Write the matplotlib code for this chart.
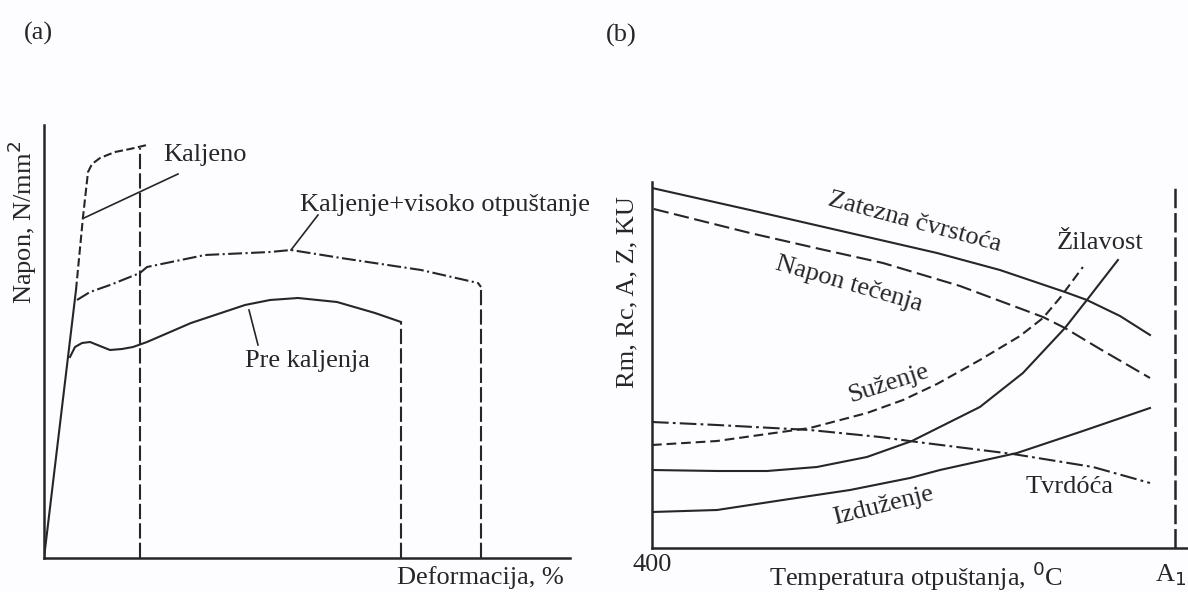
import matplotlib
matplotlib.use("Agg")
import matplotlib.pyplot as plt

plt.rcParams['font.family'] = ['Liberation Serif', 'DejaVu Serif']
plt.rcParams['lines.scale_dashes'] = False

INK = '#262626'
FS = 19

# ---- panel (a): stress-strain curves (arbitrary units) ----
elastic_x = [0, 32]
elastic_y = [0, 268]

kaljeno_x = [32, 39, 42, 44, 48, 56, 71, 86, 103]
kaljeno_y = [268, 341, 368, 386, 394, 400, 406, 409, 413]

visoko_x = [33, 46, 66, 96, 103, 161, 226, 247, 297, 377, 434, 437]
visoko_y = [258, 266, 273, 285, 291, 303, 306, 308, 300, 288, 275, 271]

pre_x = [26, 31, 38, 46, 56, 66, 78, 89, 103, 147, 201, 226, 254, 293, 331, 357]
pre_y = [201, 211, 215, 216, 212, 208, 209, 211, 216, 235, 253, 258, 260, 256, 245, 236]

# fracture strains (vertical drop lines) and their heights
break_x = [96, 357, 437]
break_top = [410, 236, 271]

# ---- panel (b): properties vs tempering temperature ----
rm_t = [400, 456.2, 513.6, 563.5, 599.6, 636.9, 649.5, 668.5, 685.7]
rm_v = [360, 338, 315, 295, 278, 256, 248, 232, 213]

re_t = [401, 456.2, 496.4, 532.5, 576.7, 624.3, 636.9, 657.0, 685.7]
re_v = [339, 315, 299, 285, 262, 231, 220, 199, 170]

z_t = [400, 437.3, 466.0, 490.6, 523.3, 544.0, 563.5, 588.1, 611.1, 624.3, 634.0, 647.2]
z_v = [103, 107, 114, 120, 135, 148, 164, 188, 212, 230, 250, 281]

ku_t = [400, 437.3, 466.0, 494.6, 523.3, 549.1, 588.1, 612.8, 636.9, 649.5, 667.3]
ku_v = [78, 77, 77, 81, 91, 107, 141, 175, 220, 248, 288]

a_t = [400, 437.3, 475.1, 513.6, 548.0, 565.2, 609.4, 645.5, 685.7]
a_v = [36, 38, 48, 58, 70, 78, 95, 116, 140]

hb_t = [400, 437.3, 490.6, 530.8, 552.0, 607.1, 653.0, 685.7]
hb_v = [126, 123, 118, 111, 106, 94, 81, 65]

A1_temp = 700

W, H = 1188, 592
fig = plt.figure(figsize=(W / 100, H / 100), dpi=100, facecolor='#fdfcfe')


def fx(px):
    return px / W


def fy(py):
    return 1 - py / H


def style_axes(ax):
    ax.set_facecolor('none')
    for s in ['top', 'right']:
        ax.spines[s].set_visible(False)
    for s in ['left', 'bottom']:
        ax.spines[s].set_color(INK)
        ax.spines[s].set_linewidth(1.8)
    ax.set_xticks([])
    ax.set_yticks([])


lw = 1.5
dashed = (0, (6, 2.5))
longdash = (0, (11, 3))
dashdot = (0, (10, 2.5, 1.5, 2.5))

# panel (a)
ax = fig.add_axes([fx(44), fy(558), fx(570) - fx(44), fy(125) - fy(558)])
style_axes(ax)
ax.set_xlim(0, 526)
ax.set_ylim(0, 433)

ax.plot(elastic_x, elastic_y, color=INK, lw=lw)
ax.plot(kaljeno_x, kaljeno_y, color=INK, lw=lw, ls=dashed)
ax.plot(visoko_x, visoko_y, color=INK, lw=lw, ls=dashdot)
ax.plot(pre_x, pre_y, color=INK, lw=lw)
for bx_, bt in zip(break_x, break_top):
    ax.plot([bx_, bx_], [0, bt], color=INK, lw=lw, ls=longdash)

# leaders + labels
ax.plot([40, 134], [340, 384], color=INK, lw=1.2)
ax.text(119, 403, 'Kaljeno', fontsize=FS, color=INK, ha='left', va='center')
ax.plot([247, 274], [308, 343], color=INK, lw=1.2)
ax.text(256, 353, 'Kaljenje+visoko otpuštanje', fontsize=FS, color=INK,
        ha='left', va='center', clip_on=False)
ax.plot([205, 214], [248, 213], color=INK, lw=1.2)
ax.text(201, 197, 'Pre kaljenja', fontsize=FS, color=INK, ha='left', va='center')

fig.text(fx(38), fy(33), '(a)', fontsize=FS, color=INK, ha='center', va='center')
fig.text(fx(564), fy(578), 'Deformacija, %', fontsize=FS, color=INK, ha='right', va='center')
fig.text(fx(22), fy(222), 'Napon, N/mm$^2$', fontsize=FS, color=INK,
         ha='center', va='center', rotation=90)

# panel (b)
bx = fig.add_axes([fx(652), fy(548), fx(1188) - fx(652), fy(182) - fy(548)])
style_axes(bx)
bx.set_xlim(400, 707.5)
bx.set_ylim(0, 366)

bx.plot(rm_t, rm_v, color=INK, lw=lw)
bx.plot(re_t, re_v, color=INK, lw=lw, ls=(0, (11, 4)))
bx.plot(z_t, z_v, color=INK, lw=lw, ls=(0, (7, 3.5)))
bx.plot(ku_t, ku_v, color=INK, lw=lw)
bx.plot(a_t, a_v, color=INK, lw=lw)
bx.plot(hb_t, hb_v, color=INK, lw=lw, ls=(0, (12, 3, 2, 3)))
bx.plot([A1_temp, A1_temp], [0, 363], color=INK, lw=1.8, ls=(0, (14, 3.5)))

bx.text(550.9, 326, 'Zatezna čvrstoća', fontsize=FS, color=INK,
        ha='center', va='center', rotation=-15)
bx.text(513, 264, 'Napon tečenja', fontsize=FS, color=INK,
        ha='center', va='center', rotation=-16)
bx.text(536, 164, 'Suženje', fontsize=FS, color=INK,
        ha='center', va='center', rotation=18)
bx.text(657, 305, 'Žilavost', fontsize=FS, color=INK, ha='center', va='center')
bx.text(639.8, 61, 'Tvrdóća', fontsize=FS, color=INK, ha='center', va='center')
bx.text(532.5, 42, 'Izduženje', fontsize=FS, color=INK,
        ha='center', va='center', rotation=14)

fig.text(fx(621), fy(35), '(b)', fontsize=FS, color=INK, ha='center', va='center')
fig.text(fx(652), fy(565), '400', fontsize=FS, color=INK, ha='center', va='center')
fig.text(fx(916), fy(576), 'Temperatura otpuštanja, $^0$C', fontsize=FS, color=INK,
         ha='center', va='center')
fig.text(fx(1186), fy(575), 'A$_1$', fontsize=FS, color=INK, ha='right', va='center')
fig.text(fx(627), fy(292), 'Rm, Rc, A, Z, KU', fontsize=FS, color=INK,
         ha='center', va='center', rotation=90)

fig.savefig('out.png', dpi=100, facecolor=fig.get_facecolor())
